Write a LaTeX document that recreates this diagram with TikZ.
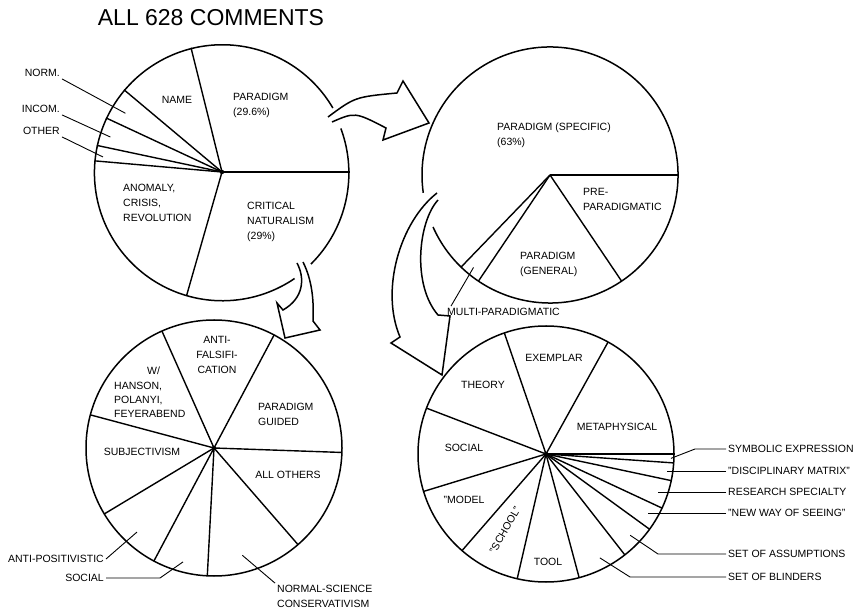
\documentclass[tikz,border=0pt]{standalone}
\usepackage{fontspec}
\setmainfont{Liberation Sans}
\usetikzlibrary{calc}

\begin{document}
\begin{tikzpicture}[
    x=1pt, y=1pt,
    pie/.style={circle, minimum size=256pt, inner sep=0pt, outer sep=0pt},
    rim/.style={line width=1.5pt},
    slice/.style={line width=1.4pt},
    lbl/.style={font=\fontsize{10.5}{15}\selectfont, inner sep=2pt},
    leader/.style={line width=0.9pt},
    bigarrow/.style={line width=1.5pt, line join=miter},
    hub/.style={fill=black}
]
\useasboundingbox (0,0) rectangle (866,610);

% Title
\node[font=\fontsize{23}{27}\selectfont] (title) at (211,592) {ALL 628 COMMENTS};

% Pies
\node[pie] (all) at (222,438) {};
\node[pie] (par) at (550,435) {};
\node[pie] (crit) at (214,162) {};
\node[pie] (spec) at (546,156) {};

% Pie: all comments
\draw[rim] (all.30.4) arc[start angle=30.4, end angle=304.3, radius=128pt];
\draw[rim] (all.314.7) arc[start angle=314.7, end angle=380.4, radius=128pt];
\foreach \a in {0,104.5,140,155,168,175.5,254}
    \draw[slice] (all.center) -- (all.\a);
\fill[hub] (all.center) circle[radius=2.2pt];

\node[lbl] (name) at (177,510) {NAME};
\node[lbl, anchor=west, align=left] (paradigm) at (231,505) {PARADIGM\\(29.6\%)};
\node[lbl, anchor=west, align=left] (anomaly) at (121,407) {ANOMALY,\\CRISIS,\\REVOLUTION};
\node[lbl, anchor=west, align=left] (critical) at (245,388) {CRITICAL\\NATURALISM\\(29\%)};
\node[lbl, anchor=east] (norm) at (62,537) {NORM.};
\node[lbl, anchor=east] (incom) at (62,501) {INCOM.};
\node[lbl, anchor=east] (other) at (62,479) {OTHER};

\path (all.center) ++(148.7:113) coordinate (norm-in);
\path (all.center) ++(162.6:117) coordinate (incom-in);
\path (all.center) ++(172.8:120) coordinate (other-in);
\draw[leader] (norm.south east) -- (norm-in);
\draw[leader] (incom.south east) -- (incom-in);
\draw[leader] (other.south east) -- (other-in);

% Pie: paradigm
\draw[rim] (par.204) arc[start angle=204, end angle=548, radius=128pt];
\foreach \a in {0,226.8,236,304}
    \draw[slice] (par.center) -- (par.\a);

\node[lbl, anchor=west, align=left] (specific) at (495,474.5) {PARADIGM (SPECIFIC)\\(63\%)};
\node[lbl, anchor=west, align=left] (prepar) at (581,410.5) {PRE-\\PARADIGMATIC};
\node[lbl, anchor=west, align=left] (general) at (518,346) {PARADIGM\\(GENERAL)};
\node[lbl, anchor=west] (multi) at (445,298) {MULTI-PARADIGMATIC};

\path (par.center) ++(230.4:120) coordinate (multi-in);
\draw[leader] ([xshift=6pt]multi.north west) -- (multi-in);

% Pie: critical naturalism
\draw[rim] (crit.center) circle[radius=128pt];
\foreach \a in {62.8,114.7,165.9,211.5,242.6,267.7,311.1,358.2}
    \draw[slice] (crit.center) -- (crit.\a);
\fill[hub] (crit.center) circle[radius=2.2pt];

\node[lbl, align=center] (antifals) at (217,255) {ANTI-\\FALSIFI-\\CATION};
\node[lbl, anchor=west, align=left, font=\fontsize{10.5}{14.3}\selectfont] (hanson) at (112,217.5) {\hspace*{33pt}W/\\HANSON,\\POLANYI,\\FEYERABEND};
\node[lbl, anchor=west, align=left] (guided) at (256,196) {PARADIGM\\GUIDED};
\node[lbl] (subj) at (142,158) {SUBJECTIVISM};
\node[lbl] (allothers) at (288,135) {ALL OTHERS};
\node[lbl, anchor=east] (antipos) at (106,51) {ANTI-POSITIVISTIC};
\node[lbl, anchor=east] (socialc) at (106,32) {SOCIAL};
\node[lbl, anchor=west, align=left] (normal) at (275,13.5) {NORMAL-SCIENCE\\CONSERVATIVISM};

\path (crit.center) ++(227.5:114) coordinate (antipos-in);
\path (crit.center) ++(254.8:118) coordinate (socialc-in);
\path (crit.center) ++(284.8:111) coordinate (normal-in);
\draw[leader] (antipos.east) -- (antipos-in);
\draw[leader] (socialc.east) -- ++(54,0) -- (socialc-in);
\draw[leader] (normal.north west) -- (normal-in);

% Pie: paradigm specific
\draw[rim] (spec.center) circle[radius=128pt];
\foreach \a in {0,61.2,109.9,159.4,197,229,257,285,308.5,324,335.3,348.2,356}
    \draw[slice] (spec.center) -- (spec.\a);
\fill[hub] (spec.center) circle[radius=2.2pt];

\node[lbl] (exemplar) at (554,252) {EXEMPLAR};
\node[lbl] (theory) at (483,225) {THEORY};
\node[lbl] (metaph) at (617,183) {METAPHYSICAL};
\node[lbl] (socialp) at (464,162) {SOCIAL};
\node[lbl] (model) at (464,110) {"MODEL};
\node[lbl, rotate=60] (school) at (505,80) {"SCHOOL"};
\node[lbl] (tool) at (548,48) {TOOL};

\node[lbl, anchor=west] (symb) at (726,161) {SYMBOLIC EXPRESSION};
\node[lbl, anchor=west] (disc) at (726,139) {"DISCIPLINARY MATRIX"};
\node[lbl, anchor=west] (research) at (726,118) {RESEARCH SPECIALTY};
\node[lbl, anchor=west] (newway) at (726,97) {"NEW WAY OF SEEING"};
\node[lbl, anchor=west] (assum) at (726,56) {SET OF ASSUMPTIONS};
\node[lbl, anchor=west] (blind) at (726,33) {SET OF BLINDERS};

\path (spec.center) ++(358:125) coordinate (symb-in);
\coordinate (disc-in) at ([xshift=-59pt]disc.west);
\coordinate (research-in) at ([xshift=-68pt]research.west);
\coordinate (newway-in) at ([xshift=-78pt]newway.west);
\path (spec.center) ++(316:117) coordinate (assum-in);
\path (spec.center) ++(297.4:117) coordinate (blind-in);
\draw[leader] (symb.west) -- ++(-31,0) -- (symb-in);
\draw[leader] (disc.west) -- (disc-in);
\draw[leader] (research.west) -- (research-in);
\draw[leader] (newway.west) -- (newway-in);
\draw[leader] (assum.west) -- ++(-68,0) -- (assum-in);
\draw[leader] (blind.west) -- ++(-96,0) -- (blind-in);

% Arrows between pies
\draw[bigarrow] (328,493) .. controls (355,513) .. (397,517) -- (403,529) -- (429,487)
    -- (383,470) -- (386,482) .. controls (355,498) .. (332,488);
\draw[bigarrow] (297,347) .. controls (305,332) and (304,312) .. (283,300) -- (277,307)
    -- (285,272) -- (320,280) -- (313,289) .. controls (314,310) and (312,330) .. (303,348);
\draw[bigarrow] (437,417) .. controls (400,388) and (380,320) .. (400,273) -- (391,267)
    -- (442,235) -- (450,294) -- (438,295) .. controls (412,325) and (418,388) .. (438,410);

\end{tikzpicture}
\end{document}
